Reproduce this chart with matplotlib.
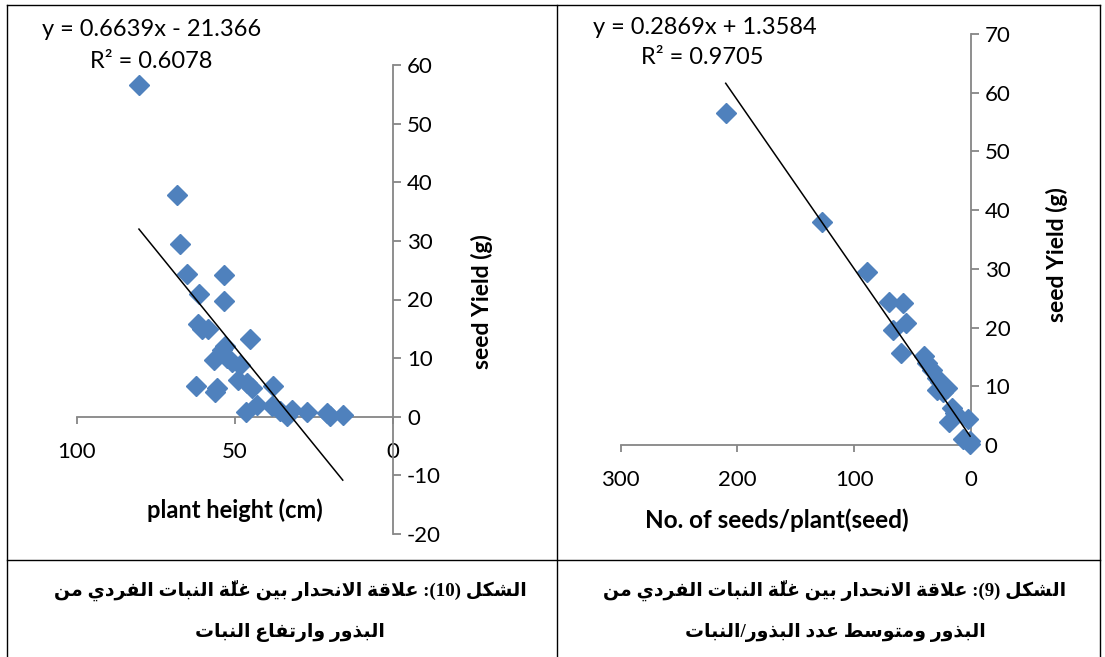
#=== Define package ===#
import numpy as np
import matplotlib
matplotlib.use('Agg')
import matplotlib.pyplot as plt
from matplotlib.lines import Line2D

#=== Data ===#
# figure 10 : plant height vs seed yield
height_cm = [80.4, 68.4, 67.4, 65.3, 53.4, 61.4, 53.4, 61.8, 60.5, 58.6, 45.3, 53.2,
             54.2, 56.6, 52.6, 51.0, 48.4, 62.3, 55.8, 56.3, 49.0, 46.3, 44.7, 38.1,
             46.6, 43.1, 38.4, 35.8, 33.6, 31.9, 27.3, 21.0, 19.9, 15.9]
yield_h = [56.6, 37.8, 29.5, 24.4, 24.2, 21.0, 19.8, 15.8, 14.9, 15.0, 13.2, 12.0,
           11.4, 9.7, 10.0, 9.4, 8.9, 5.3, 4.9, 4.3, 6.3, 5.7, 4.9, 5.2,
           0.8, 2.0, 1.8, 0.9, 0.1, 1.2, 0.8, 0.6, 0.2, 0.3]
slope_h, icpt_h, r2_h = 0.6639, -21.366, 0.6078

# figure 9 : seeds per plant vs seed yield
seeds = [210, 127.6, 88.6, 69.8, 58.3, 55.4, 66.3, 59.7, 40.0, 37.7, 33.4, 29.1,
         26.3, 20.6, 29.1, 24.0, 16.3, 13.5, 18.3, 2.1, 6.3, 1.0, 0.5]
yield_s = [56.6, 38.0, 29.4, 24.4, 24.1, 20.8, 19.6, 15.6, 15.2, 13.9, 12.8, 11.4,
           10.8, 9.7, 9.4, 9.1, 6.3, 5.4, 4.0, 4.5, 1.1, 0.2, 0.6]
slope_s, icpt_s, r2_s = 0.2869, 1.3584, 0.9705

xticks_h = [100, 50, 0]
yticks_h = [-20, -10, 0, 10, 20, 30, 40, 50, 60]
xticks_s = [300, 200, 100, 0]
yticks_s = [0, 10, 20, 30, 40, 50, 60, 70]

cap10 = ["الشكل (10): علاقة الانحدار بين غلّة النبات الفردي من", "البذور وارتفاع النبات"]
cap9 = ["الشكل (9): علاقة الانحدار بين غلّة النبات الفردي من", "البذور ومتوسط عدد البذور/النبات"]

#=== Arabic shaping (no reshaper lib here) ===#
FORMS = {
    'ا': ('\uFE8D', '\uFE8E', None, None), 'ب': ('\uFE8F', '\uFE90', '\uFE91', '\uFE92'),
    'ة': ('\uFE93', '\uFE94', None, None), 'ت': ('\uFE95', '\uFE96', '\uFE97', '\uFE98'),
    'ح': ('\uFEA1', '\uFEA2', '\uFEA3', '\uFEA4'), 'د': ('\uFEA9', '\uFEAA', None, None),
    'ذ': ('\uFEAB', '\uFEAC', None, None), 'ر': ('\uFEAD', '\uFEAE', None, None),
    'س': ('\uFEB1', '\uFEB2', '\uFEB3', '\uFEB4'), 'ش': ('\uFEB5', '\uFEB6', '\uFEB7', '\uFEB8'),
    'ط': ('\uFEC1', '\uFEC2', '\uFEC3', '\uFEC4'), 'ع': ('\uFEC9', '\uFECA', '\uFECB', '\uFECC'),
    'غ': ('\uFECD', '\uFECE', '\uFECF', '\uFED0'), 'ف': ('\uFED1', '\uFED2', '\uFED3', '\uFED4'),
    'ق': ('\uFED5', '\uFED6', '\uFED7', '\uFED8'), 'ك': ('\uFED9', '\uFEDA', '\uFEDB', '\uFEDC'),
    'ل': ('\uFEDD', '\uFEDE', '\uFEDF', '\uFEE0'), 'م': ('\uFEE1', '\uFEE2', '\uFEE3', '\uFEE4'),
    'ن': ('\uFEE5', '\uFEE6', '\uFEE7', '\uFEE8'), 'و': ('\uFEED', '\uFEEE', None, None),
    'ي': ('\uFEF1', '\uFEF2', '\uFEF3', '\uFEF4'), 'لا': ('\uFEFB', '\uFEFC', None, None),
}

def is_mark(c):
    return '\u064B' <= c[0] <= '\u0652'

def shape_ar(text):
    letters = []
    i = 0
    while i < len(text):
        if text[i] == 'ل' and i + 1 < len(text) and text[i + 1] == 'ا':
            letters.append('لا')
            i += 2
        else:
            letters.append(text[i])
            i += 1
    res = []
    for k, c in enumerate(letters):
        if c not in FORMS:
            res.append(c)
            continue
        j = k - 1
        while j >= 0 and is_mark(letters[j]):
            j -= 1
        prev = j >= 0 and letters[j] in FORMS and FORMS[letters[j]][2] is not None
        j = k + 1
        while j < len(letters) and is_mark(letters[j]):
            j += 1
        nxt = j < len(letters) and letters[j] in FORMS and FORMS[c][2] is not None
        iso, fin, ini, med = FORMS[c]
        res.append(med if prev and nxt else ini if nxt else fin if prev else iso)
    # visual order; a mark goes just before its base so it is drawn over it
    clusters = []
    for c in res:
        if is_mark(c) and clusters:
            clusters[-1] = c + clusters[-1]
        else:
            clusters.append(c)
    clusters.reverse()
    out, run = [], []
    for c in clusters:
        if c.isdigit():
            run.append(c)
            continue
        out += run[::-1]
        run = []
        out.append({'(': ')', ')': '('}.get(c, c))
    out += run[::-1]
    return ''.join(out)

#=== Figure ===#
W, H = 1105, 657
plt.rcParams['font.family'] = ['Lato', 'DejaVu Sans']
plt.rcParams['axes.unicode_minus'] = False
fig = plt.figure(figsize=(W / 100, H / 100), dpi=100)
grey = '#868686'
blue = '#4F81BD'

def px_axes(x0, x1, y_top, y_bot):
    return fig.add_axes([x0 / W, 1 - y_bot / H, (x1 - x0) / W, (y_bot - y_top) / H])

def style_axes(ax, xt, yt, xpad):
    for s in ['top', 'left']:
        ax.spines[s].set_visible(False)
    ax.spines['bottom'].set_position(('data', 0))
    for s in ['bottom', 'right']:
        ax.spines[s].set_color(grey)
        ax.spines[s].set_linewidth(1.3)
    ax.yaxis.tick_right()
    ax.set_xticks(xt)
    ax.set_yticks(yt)
    ax.tick_params(axis='x', direction='out', length=5, width=1.3, color=grey,
                   labelsize=16, pad=xpad)
    ax.tick_params(axis='y', direction='out', length=6, width=1.3, color=grey,
                   labelsize=16, pad=4)
    ax.set_facecolor('none')

#=== Fig 10 (left) ===#
ax1 = px_axes(77, 393, 65, 534)
ax1.set_xlim(100, 0)
ax1.set_ylim(-20, 60)
style_axes(ax1, xticks_h, yticks_h, 13)
ax1.plot(height_cm, yield_h, 'D', color=blue, ms=10.2, mec=blue, zorder=3)
xl = np.array([min(height_cm), max(height_cm)])
ax1.plot(xl, slope_h * xl + icpt_h, color='black', lw=1.1, zorder=4)

#=== Fig 9 (right) ===#
ax2 = px_axes(620.7, 970.7, 34, 445)
ax2.set_xlim(300, 0)
ax2.set_ylim(0, 70)
style_axes(ax2, xticks_s, yticks_s, 13)
ax2.plot(seeds, yield_s, 'D', color=blue, ms=10.2, mec=blue, zorder=3, clip_on=False)
xr = np.array([min(seeds), max(seeds)])
ax2.plot(xr, slope_s * xr + icpt_s, color='black', lw=1.1, zorder=4)

#=== Texts ===#
def ftext(x, y, s, **kw):
    fig.text(x / W, 1 - y / H, s, **kw)

ftext(42, 29, f"y = {slope_h}x - {abs(icpt_h)}", fontsize=17, va='center')
ftext(90, 62, f"R² = {r2_h}", fontsize=17, va='center')
ftext(593, 28, f"y = {slope_s}x + {icpt_s}", fontsize=17, va='center')
ftext(641, 58, f"R² = {r2_s}", fontsize=17, va='center')

ftext(235, 510, "plant height (cm)", fontsize=17, weight='bold', ha='center', va='center')
ftext(777, 520, "No. of seeds/plant(seed)", fontsize=17.5, weight='bold', ha='center', va='center')
ftext(482, 302, "seed Yield (g)", fontsize=16.5, weight='bold', ha='center', va='center', rotation=90)
ftext(1057, 255, "seed Yield (g)", fontsize=16.5, weight='bold', ha='center', va='center', rotation=90)

cap_font = ['Liberation Serif', 'DejaVu Sans']
for (cx, lines) in [(290, cap10), (835, cap9)]:
    for k, line in enumerate(lines):
        ftext(cx, 590 + 43 * k, shape_ar(line), fontsize=13.6, weight='bold',
              family=cap_font, ha='center', va='center')

#=== Table borders ===#
def hline(y, x0, x1):
    fig.add_artist(Line2D([x0 / W, x1 / W], [1 - y / H, 1 - y / H], color='black', lw=1.0))

def vline(x, y0, y1):
    fig.add_artist(Line2D([x / W, x / W], [1 - y0 / H, 1 - y1 / H], color='black', lw=1.0))

hline(4.5, 6.5, 1100)
hline(560, 6.5, 1100)
vline(6.5, 4.5, 657)
vline(557, 4.5, 657)
vline(1100, 4.5, 657)

fig.savefig('out.png', dpi=100)
